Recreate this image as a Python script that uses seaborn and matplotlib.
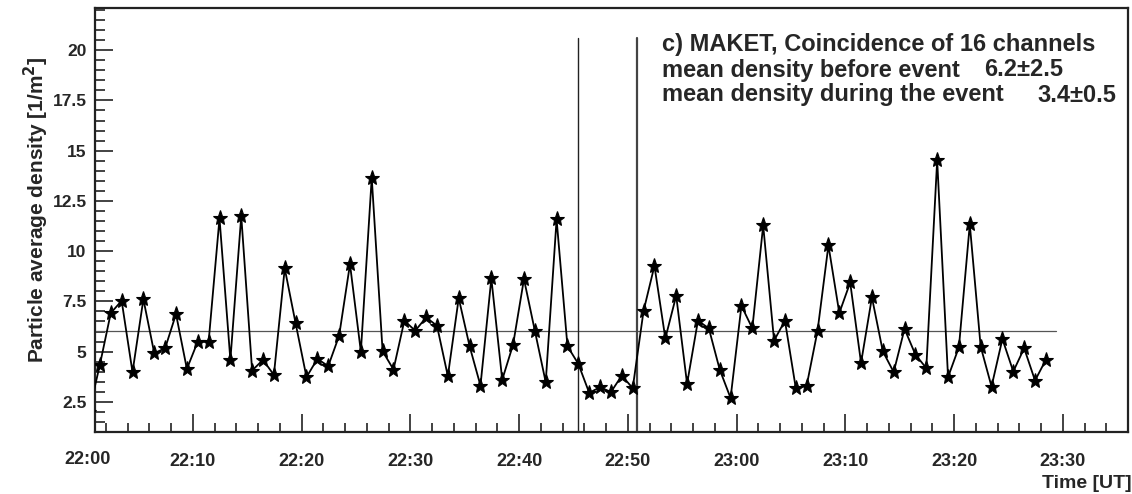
import numpy as np
import pandas as pd
import matplotlib
matplotlib.use("Agg")
import matplotlib.pyplot as plt
import matplotlib.transforms as mtransforms
from matplotlib.ticker import MultipleLocator, FixedLocator, FixedFormatter, FuncFormatter
import seaborn as sns

# ---- data (minutes after 22:00 UT) ----
minutes = np.arange(89) + 0.45
density = [2.0, 4.35, 6.92, 7.53, 3.98, 7.61, 4.92, 5.17, 6.87, 4.14,
           5.50, 5.50, 11.63, 4.59, 11.75, 4.06, 4.59, 3.84, 9.14, 6.41,
           3.73, 4.64, 4.28, 5.79, 9.35, 5.00, 13.65, 5.02, 4.11, 6.54,
           6.04, 6.70, 6.29, 3.78, 7.66, 5.27, 3.31, 8.64, 3.60, 5.35,
           8.61, 6.04, 3.48, 11.58, 5.27, 4.39, 2.95, 3.23, 2.99, 3.81,
           3.18, 7.03, 9.27, 5.66, 7.78, 3.40, 6.54, 6.16, 4.11, 2.69,
           7.28, 6.16, 11.28, 5.55, 6.54, 3.18, 3.31, 6.04, 10.29, 6.92,
           8.44, 4.44, 7.70, 5.02, 3.98, 6.13, 4.85, 4.18, 14.52, 3.73,
           5.22, 11.33, 5.25, 3.26, 5.63, 4.01, 5.17, 3.56, 4.60]
tick_minutes = [0, 10, 20, 30, 40, 50, 60, 70, 80, 90]
tick_labels = ["22:00", "22:10", "22:20", "22:30", "22:40",
               "22:50", "23:00", "23:10", "23:20", "23:30"]
mean_level = 6.04
mean_line_end = 89.35
event_bounds = [45.4, 50.8]
event_line_top = 20.6
title_lines = ["c) MAKET, Coincidence of 16 channels",
               "mean density before event", "mean density during the event"]
title_values = ["6.2\u00b12.5", "3.4\u00b10.5"]

df = pd.DataFrame({"minute": minutes, "density": density})

sns.set_theme(style="white")
plt.rcParams["font.family"] = ["Liberation Sans", "DejaVu Sans"]
plt.rcParams["font.weight"] = "bold"

fig = plt.figure(figsize=(11.32, 4.94), dpi=100)
ax = fig.add_axes([95/1132, 1-432/494, (1128-95)/1132, (432-8)/494])

xlim = (1.0, 96.0)
ylim = (1.0, 22.1)

# reference lines
ax.plot([xlim[0], mean_line_end], [mean_level, mean_level], color="#555555", lw=0.9, zorder=1)
for i, xb in enumerate(event_bounds):
    ax.plot([xb, xb], [ylim[0], event_line_top], color="#222222" if i == 0 else "#444444",
            lw=1.0 if i == 0 else 1.6, zorder=1)

sns.lineplot(data=df, x="minute", y="density", ax=ax, color="black", lw=1.3,
             marker="*", markersize=11, markeredgecolor="black", markerfacecolor="black",
             markeredgewidth=0.8, zorder=3)

ax.set_xlim(*xlim)
ax.set_ylim(*ylim)

ax.xaxis.set_major_locator(FixedLocator(tick_minutes))
ax.xaxis.set_major_formatter(FixedFormatter(tick_labels))
ax.xaxis.set_minor_locator(MultipleLocator(2))
ax.yaxis.set_major_locator(MultipleLocator(2.5))
ax.yaxis.set_minor_locator(MultipleLocator(0.5))
ax.yaxis.set_major_formatter(FuncFormatter(lambda v, p: ("%g" % v) if v >= 2.5 else ""))

ax.tick_params(axis="x", which="major", direction="in", length=13, width=1.2, color="#222222",
               pad=15, labelsize=13, bottom=True, top=False)
ax.tick_params(axis="x", which="minor", direction="in", length=6.5, width=1.2, color="#222222",
               bottom=True, top=False)
ax.tick_params(axis="y", which="major", direction="in", length=13, width=1.2, color="#222222",
               pad=6, labelsize=12.5, left=True, right=False)
ax.tick_params(axis="y", which="minor", direction="in", length=7, width=1.2, color="#222222",
               left=True, right=False)
for lab in ax.get_xticklabels() + ax.get_yticklabels():
    lab.set_fontweight("bold")

# 22:00 label lies just left of the frame start
trans = mtransforms.blended_transform_factory(ax.transData, ax.transAxes)
ax.text(tick_minutes[0] + 0.35, -0.064, tick_labels[0], transform=trans, ha="center",
        va="center", fontsize=13, fontweight="bold", clip_on=False)

for s in ax.spines.values():
    s.set_linewidth(1.6)
    s.set_color("#222222")

ax.set_xlabel("")
ax.set_ylabel("Particle average density [1/m$^2$]", fontsize=15, fontweight="bold")
ax.yaxis.set_label_coords(-0.043, 0.525)

fig.text(1132/1132, 1-483/494, "Time [UT]", ha="right", va="center",
         fontsize=14, fontweight="bold")

fs = 17
fig.text(662/1132, 1-44/494, title_lines[0], ha="left", va="center", fontsize=fs,
         fontweight="bold")
fig.text(662/1132, 1-70/494, title_lines[1], ha="left", va="center", fontsize=fs,
         fontweight="bold")
fig.text(662/1132, 1-95/494, title_lines[2], ha="left", va="center", fontsize=fs,
         fontweight="bold")
fig.text(984/1132, 1-70/494, title_values[0], ha="left", va="center", fontsize=fs,
         fontweight="bold")
fig.text(1037/1132, 1-95/494, title_values[1], ha="left", va="center", fontsize=fs,
         fontweight="bold")

fig.savefig("out.png", dpi=100, facecolor="white")
